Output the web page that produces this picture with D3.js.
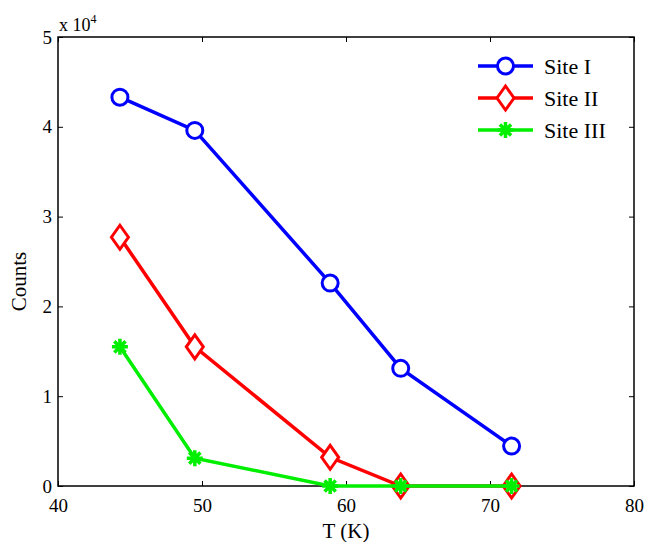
<!DOCTYPE html>
<html>
<head>
<meta charset="utf-8">
<script src="https://cdn.jsdelivr.net/npm/d3@7"></script>
<style>
  body { margin: 0; background: #fff; }
  text { font-family: "Liberation Serif", "Times New Roman", serif; fill: #000; }
</style>
</head>
<body>
<div id="chart"></div>
<script>
// data
var temps = [44.3, 49.5, 58.9, 63.8, 71.5];
var site1 = [43300, 39600, 22600, 13100, 4450];
var site2 = [27700, 15500, 3200, 0, 0];
var site3 = [15500, 3100, 0, 0, 0];
var seriesNames = ["Site I", "Site II", "Site III"];
var xTicks = [40, 50, 60, 70, 80];
var yTicks = [0, 10000, 20000, 30000, 40000, 50000];

var svgWidth = 647;
var svgHeight = 542;
var margin = { top: 37, right: 13, bottom: 56, left: 58 };
var width = svgWidth - margin.left - margin.right;
var height = svgHeight - margin.top - margin.bottom;

var svg = d3.select("#chart")
    .append("svg")
    .attr("width", svgWidth)
    .attr("height", svgHeight);

var chartGroup = svg.append("g")
    .attr("transform", `translate(${margin.left}, ${margin.top})`);

var xScale = d3.scaleLinear().domain([40, 80]).range([0, width]);
var yScale = d3.scaleLinear().domain([0, 50000]).range([height, 0]);

// axes, MATLAB style: ticks inward on all four sides
function styleAxis(g) {
    g.select(".domain").remove();
    g.selectAll(".tick line").attr("stroke", "#000").attr("stroke-width", 1);
    g.selectAll(".tick text").style("font-size", "19px");
}

chartGroup.append("g")
    .attr("transform", `translate(0, ${height})`)
    .call(d3.axisBottom(xScale).tickValues(xTicks).tickSize(-5).tickPadding(13).tickFormat(d3.format("d")))
    .call(styleAxis);

chartGroup.append("g")
    .call(d3.axisTop(xScale).tickValues(xTicks).tickSize(-5).tickFormat(""))
    .call(styleAxis);

chartGroup.append("g")
    .call(d3.axisLeft(yScale).tickValues(yTicks).tickSize(-5).tickPadding(6).tickFormat(d => d / 10000))
    .call(styleAxis);

chartGroup.append("g")
    .attr("transform", `translate(${width}, 0)`)
    .call(d3.axisRight(yScale).tickValues(yTicks).tickSize(-5).tickFormat(""))
    .call(styleAxis);

chartGroup.append("rect")
    .attr("width", width)
    .attr("height", height)
    .attr("fill", "none")
    .attr("stroke", "#000")
    .attr("stroke-width", 1.5);

// exponent label
var expo = chartGroup.append("text")
    .attr("x", 1)
    .attr("y", -6)
    .style("font-size", "18px");
expo.append("tspan").text("x 10");
expo.append("tspan").attr("dy", -8).style("font-size", "12px").text("4");

// series
var colors = ["#0000ff", "#ff0000", "#00ee00"];
var allSeries = [site1, site2, site3];

var line = d3.line()
    .x(d => xScale(d[0]))
    .y(d => yScale(d[1]));

function drawMarker(g, type, color) {
    if (type === 0) {
        g.append("circle").attr("r", 8).attr("fill", "#fff")
            .attr("stroke", color).attr("stroke-width", 3);
    } else if (type === 1) {
        g.append("path").attr("d", "M0,-12L8.5,0L0,12L-8.5,0Z").attr("fill", "#fff")
            .attr("stroke", color).attr("stroke-width", 3);
    } else {
        var s = 8;
        g.append("path")
            .attr("d", `M${-s},0H${s}M0,${-s}V${s}M${-s * 0.7},${-s * 0.7}L${s * 0.7},${s * 0.7}M${-s * 0.7},${s * 0.7}L${s * 0.7},${-s * 0.7}`)
            .attr("stroke", color).attr("stroke-width", 3.5).attr("fill", "none");
    }
}

allSeries.forEach(function (vals, i) {
    var pts = temps.map((t, j) => [t, vals[j]]);
    chartGroup.append("path")
        .datum(pts)
        .attr("d", line)
        .attr("fill", "none")
        .attr("stroke", colors[i])
        .attr("stroke-width", 3.5);
    pts.forEach(function (p) {
        var g = chartGroup.append("g")
            .attr("transform", `translate(${xScale(p[0])}, ${yScale(p[1])})`);
        drawMarker(g, i, colors[i]);
    });
});

// legend
var legend = chartGroup.append("g")
    .attr("transform", "translate(420, 29)");

seriesNames.forEach(function (name, i) {
    var row = legend.append("g").attr("transform", `translate(0, ${i * 32})`);
    row.append("line")
        .attr("x1", 0).attr("x2", 55)
        .attr("stroke", colors[i]).attr("stroke-width", 3.5);
    var m = row.append("g").attr("transform", "translate(27.5, 0)");
    drawMarker(m, i, colors[i]);
    row.append("text")
        .attr("x", 66)
        .attr("y", 8)
        .style("font-size", "22px")
        .text(name);
});

// axis titles
chartGroup.append("text")
    .attr("transform", `translate(${width / 2}, ${height + 52})`)
    .attr("text-anchor", "middle")
    .style("font-size", "21px")
    .text("T (K)");

chartGroup.append("text")
    .attr("transform", "rotate(-90)")
    .attr("x", -height / 2 - 20)
    .attr("y", -32)
    .attr("text-anchor", "middle")
    .style("font-size", "21px")
    .text("Counts");
</script>
</body>
</html>
